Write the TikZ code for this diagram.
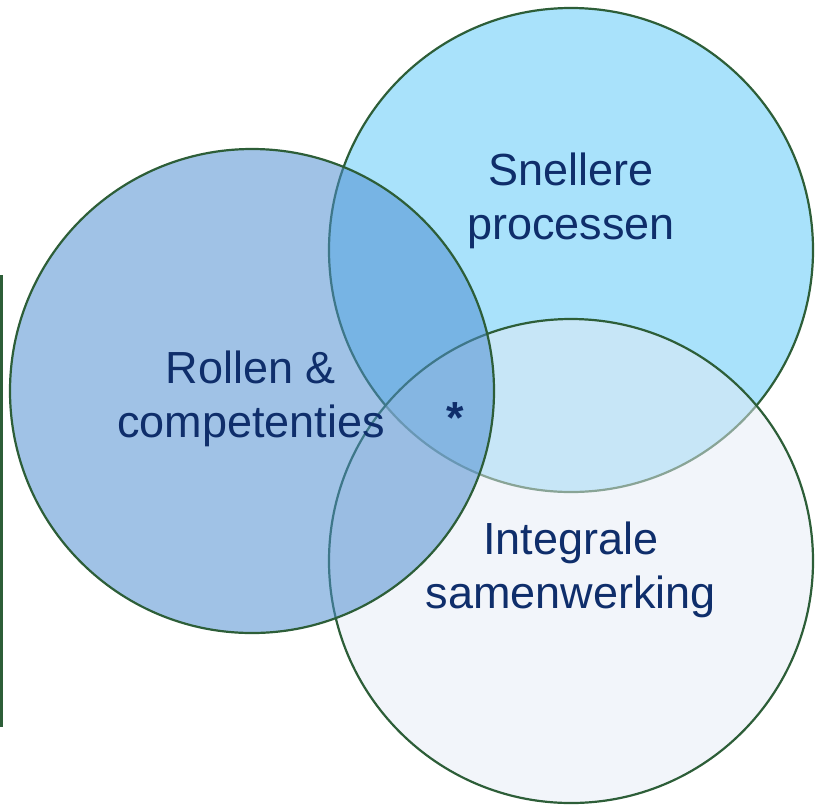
\documentclass[tikz,border=0pt]{standalone}
\usepackage{fontspec}
\setmainfont{Liberation Sans}
\begin{document}
\begin{tikzpicture}[x=1pt,y=-1pt,
  ring/.style={draw=ringgreen,line width=2.2pt},
  label/.style={text=navy,font=\fontsize{45}{54}\selectfont,align=center,inner sep=0pt}]
\definecolor{ringgreen}{HTML}{2D5E38}
\definecolor{navy}{HTML}{0F2E6B}
\definecolor{skyfill}{HTML}{A9E2FB}
\definecolor{palefill}{HTML}{E5EBF5}
\definecolor{bluefill}{HTML}{4D8DD0}
\useasboundingbox (0,0) rectangle (821,807);
% side rule
\draw[draw=ringgreen,line width=2.5pt] (1.5,275) coordinate (ra) -- (1.5,727) coordinate (rb);
% three overlapping circles
\node[ring,fill=skyfill,circle,minimum size=484pt,inner sep=0pt] (speed) at (571,250) {};
\node[ring,fill=palefill,fill opacity=0.5,circle,minimum size=484pt,inner sep=0pt] (team) at (571,561) {};
\node[ring,fill=bluefill,fill opacity=0.535,circle,minimum size=484pt,inner sep=0pt] (roles) at (252,391) {};
% labels
\node[label] (tspeed) at (571,201) {Snellere\\processen};
\node[label] (troles) at (251,399) {Rollen \&\\competenties};
\node[label] (tteam) at (571,570) {Integrale\\samenwerking};
\node[text=navy,font=\fontsize{45}{54}\selectfont\bfseries,inner sep=0pt,anchor=base] (star) at (455,433) {*};
\end{tikzpicture}
\end{document}
